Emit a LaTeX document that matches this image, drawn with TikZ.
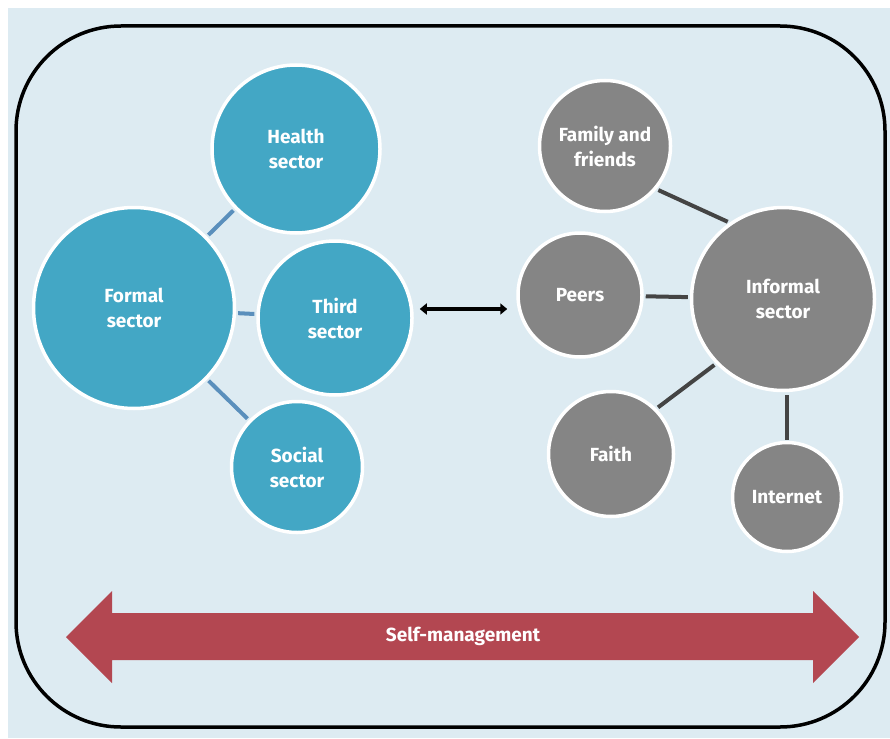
\documentclass[tikz,border=0pt]{standalone}
\usepackage{fontspec}
\setmainfont{Fira Sans}
\usepackage{tikz}
\usetikzlibrary{arrows.meta,positioning}
\definecolor{panelblue}{RGB}{221,235,242}
\definecolor{formalteal}{RGB}{67,167,197}
\definecolor{informalgrey}{RGB}{133,133,133}
\definecolor{formalline}{RGB}{90,143,188}
\definecolor{informalline}{RGB}{68,68,68}
\definecolor{selfred}{RGB}{179,71,81}

\tikzset{
    sector/.style={
        circle,
        draw=white,
        line width=3.5pt,
        inner sep=0pt,
        text=white,
        align=center,
        font=\fontsize{19}{25}\selectfont\bfseries
    },
    formalsector/.style={sector, fill=formalteal},
    informalsector/.style={sector, fill=informalgrey},
    formaledge/.style={draw=formalline, line width=4pt, shorten <=2pt, shorten >=2pt},
    informaledge/.style={draw=informalline, line width=4pt, shorten <=2pt, shorten >=2pt}
}

\begin{document}
\begin{tikzpicture}[x=1pt, y=-1pt]
    \useasboundingbox (0,0) rectangle (890,738);
    \fill[panelblue] (8,8) rectangle (890,738);
    \draw[line width=3.5pt, rounded corners=105pt] (16,26) rectangle (885,727);

    % formal side
    \node[formalsector, minimum size=201pt] (formal) at (134,308) {Formal\\sector};
    \node[formalsector, minimum size=168pt] (health) at (296,149) {Health\\sector};
    \node[formalsector, minimum size=154pt] (third) at (335,318) {Third\\sector};
    \node[formalsector, minimum size=131pt] (social) at (297,467) {Social\\sector};

    % informal side
    \node[informalsector, minimum size=131pt] (family) at (605,146) {Family and\\friends};
    \node[informalsector, minimum size=124pt] (peers) at (580,295) {Peers};
    \node[informalsector, minimum size=183pt] (informal) at (783,299) {Informal\\sector};
    \node[informalsector, minimum size=125pt] (faith) at (611,454) {Faith};
    \node[informalsector, minimum size=109pt] (internet) at (787,497) {Internet};

    \draw[formaledge] (formal) -- (health);
    \draw[formaledge] (formal) -- (third);
    \draw[formaledge] (formal) -- (social);

    \draw[informaledge] (family.-40) -- (informal.125);
    \draw[informaledge] (peers) -- (informal);
    \draw[informaledge] (faith.45) -- (informal.224);
    \draw[informaledge, shorten <=3pt, shorten >=1pt] (informal.-90 -| internet.90) -- (internet.90);

    % link between the two sides
    \draw[line width=4pt, {Triangle[length=7pt,width=11pt]}-{Triangle[length=7pt,width=11pt]}]
        ([xshift=6pt,yshift=9pt]third.east) -- ([xshift=-9pt,yshift=-14pt]peers.west);

    % self-management band
    \fill[selfred] (66,637) -- (112,591) -- (112,613) -- (813,613) -- (813,591)
        -- (859,637) -- (813,683) -- (813,660) -- (112,660) -- (112,683) -- cycle;
    \node[text=white, font=\fontsize{19}{25}\selectfont\bfseries] (selfmgmt) at (463,636) {Self-management};
\end{tikzpicture}
\end{document}
